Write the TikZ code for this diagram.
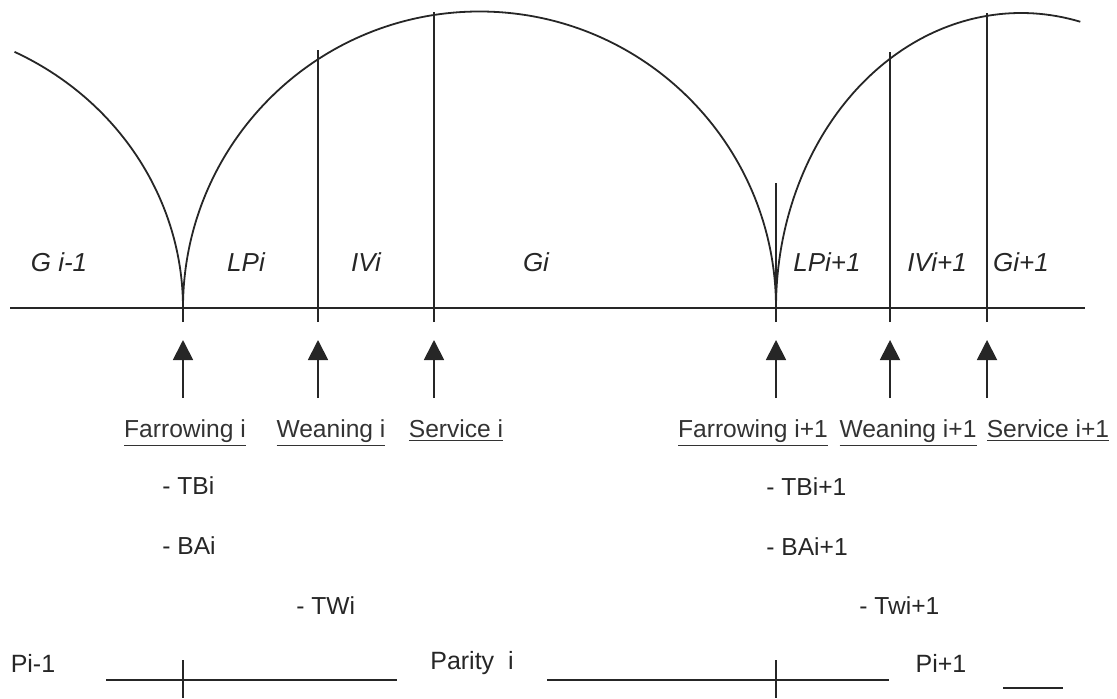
\documentclass[tikz,border=0pt]{standalone}
\usepackage{fontspec}
\setmainfont{Liberation Sans}
\usepackage{tikz}
\usetikzlibrary{arrows.meta,positioning}
\tikzset{
  axisline/.style={line width=1pt, black!85},
  curve/.style={line width=0.9pt, black!85},
  marker/.style={line width=0.9pt, black!85},
  pointer/.style={-{Triangle[length=10pt,width=10pt]}, line width=0.9pt, black!85},
  phase/.style={font=\fontsize{13}{15}\selectfont\itshape, text=black!85,
                inner sep=0pt},
  event/.style={font=\fontsize{12.3}{14}\selectfont, text=black!80,
                inner sep=0pt, anchor=base},
  trait/.style={font=\fontsize{12.3}{14}\selectfont, text=black!85,
                inner sep=0pt, anchor=west},
  parity/.style={font=\fontsize{12.5}{14}\selectfont, text=black!85,
                 inner sep=0pt},
}

\begin{document}
\begin{tikzpicture}[x=0.5pt,y=0.5pt]
\useasboundingbox (0,0) rectangle (1117,698);

% events on the time axis
\coordinate (far1) at (183,390);
\coordinate (wea1) at (318,390);
\coordinate (ser1) at (434,390);
\coordinate (far2) at (776,390);
\coordinate (wea2) at (890,390);
\coordinate (ser2) at (987,390);
\coordinate (axl) at (10,390);
\coordinate (axr) at (1085,390);

\draw[axisline] (axl) -- (axr);

% gestation and lactation arcs
\draw[curve] (far1) arc[start angle=0, end angle=64, x radius=300, y radius=285];
\draw[curve] (far1) arc[start angle=180, end angle=0, radius=296.5];
\draw[curve] (far2) arc[start angle=180, end angle=76, x radius=245, y radius=295];

% period boundaries
\draw[marker] (far1) ++(0,-14) -- ++(0,14);
\draw[marker] (wea1) ++(0,-14) -- ++(0,272);
\draw[marker] (ser1) ++(0,-14) -- ++(0,310);
\draw[marker] (far2) ++(0,-14) -- ++(0,139);
\draw[marker] (wea2) ++(0,-14) -- ++(0,270);
\draw[marker] (ser2) ++(0,-14) -- ++(0,309);

\node[phase] (gprev) at (59,436) {G i-1};
\node[phase] (lp1) at (246,436) {LPi};
\node[phase] (iv1) at (366,436) {IVi};
\node[phase] (g1) at (536,436) {Gi};
\node[phase] (lp2) at (827,436) {LPi+1};
\node[phase] (iv2) at (937,436) {IVi+1};
\node[phase] (g2) at (1021,436) {Gi+1};

% arrows to the events
\draw[pointer] (far1) ++(0,-90) -- ++(0,58);
\draw[pointer] (wea1) ++(0,-90) -- ++(0,58);
\draw[pointer] (ser1) ++(0,-90) -- ++(0,58);
\draw[pointer] (far2) ++(0,-90) -- ++(0,58);
\draw[pointer] (wea2) ++(0,-90) -- ++(0,58);
\draw[pointer] (ser2) ++(0,-90) -- ++(0,58);

\node[event] (farlab1) at (185,261) {\underline{Farrowing i}};
\node[event] (wealab1) at (331,261) {\underline{Weaning i}};
\node[event] (serlab1) at (456,261) {\underline{Service i}};
\node[event] (farlab2) at (753,261) {\underline{Farrowing i+1}};
\node[event] (wealab2) at (908,261) {\underline{Weaning i+1}};
\node[event] (serlab2) at (1048,261) {\underline{Service i+1}};

% recorded traits
\node[trait] (tb1) at (162,212) {- TBi};
\node[trait, below=30pt of tb1.west, anchor=west] (ba1) {- BAi};
\node[trait] (tw1) at (296,92) {- TWi};
\node[trait] (tb2) at (766,211) {- TBi+1};
\node[trait, below=30pt of tb2.west, anchor=west] (ba2) {- BAi+1};
\node[trait] (tw2) at (859,92) {- Twi+1};

% parity line
\node[parity] (pprev) at (33,35) {Pi-1};
\node[parity] (pcur) at (472,35) {Parity~ i};
\node[parity] (pnext) at (941,35) {Pi+1};
\draw[marker] (106,18) -- (397,18);
\draw[marker] (547,18) -- (889,18);
\draw[marker] (1003,10) -- (1063,10);
\draw[marker] (183,38) -- (183,0);
\draw[marker] (776,38) -- (776,0);

\end{tikzpicture}
\end{document}
